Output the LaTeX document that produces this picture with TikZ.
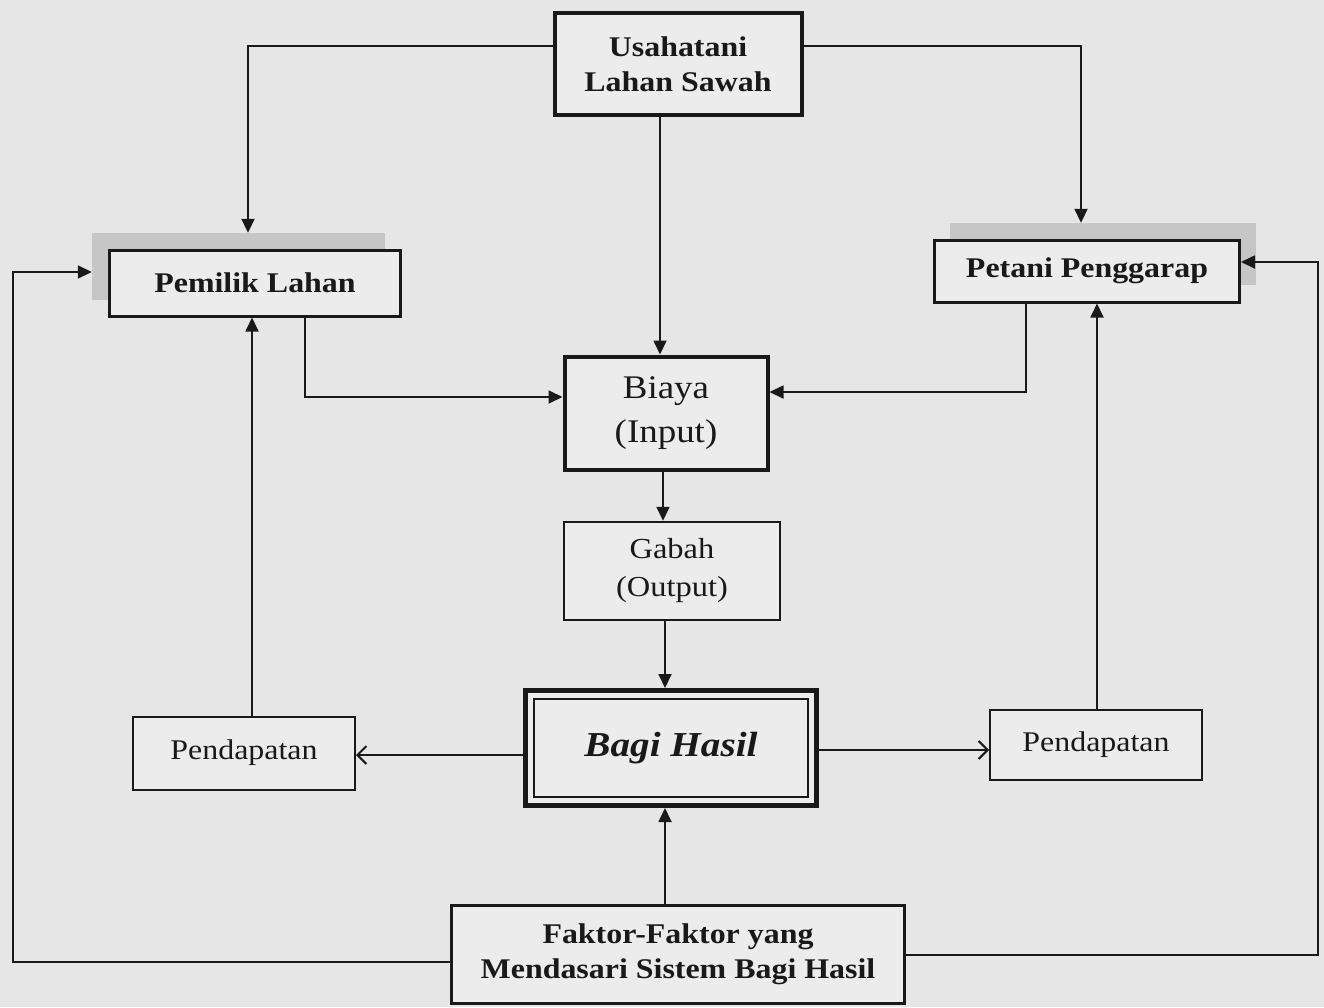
\documentclass[tikz,border=0pt]{standalone}
\usepackage{fontspec}
\setmainfont[FakeStretch=1.12]{Liberation Serif}
\usetikzlibrary{arrows.meta,calc}
\definecolor{bgc}{RGB}{230,230,230}
\definecolor{boxc}{RGB}{236,236,236}
\definecolor{shc}{RGB}{198,198,198}
\definecolor{ink}{RGB}{25,25,25}
\tikzset{
  base/.style={draw=ink,fill=boxc,text=ink,align=center,inner sep=0pt},
  boldbox/.style={base,font=\fontsize{28.5}{35}\selectfont\bfseries},
  plainbox/.style={base,font=\fontsize{28.5}{38}\selectfont,line width=2pt},
  shadowbox/.style={fill=shc,draw=none,inner sep=0pt},
  conn/.style={draw=ink,line width=1.8pt},
  arr/.style={conn,-{Triangle[length=14pt,width=13pt]}},
  barb/.style={conn,-{Straight Barb[length=9pt,width=18pt,line width=2pt]}}
}
\begin{document}
\begin{tikzpicture}[x=1pt,y=-1pt]
\fill[bgc] (0,0) rectangle (1324,1007);
\useasboundingbox (0,0) rectangle (1324,1007);

% shadows
\node[shadowbox,minimum width=293pt,minimum height=67pt] (plsh) at (238.5,266.5) {};
\node[shadowbox,minimum width=306pt,minimum height=62pt] (ppsh) at (1103,254) {};

% nodes
\node[boldbox,line width=4pt,minimum width=247pt,minimum height=102pt] (us) at (678,64) {Usahatani\\Lahan Sawah};
\node[boldbox,line width=3pt,minimum width=291pt,minimum height=66pt] (pl) at (255,283) {Pemilik Lahan};
\node[boldbox,line width=3pt,minimum width=305pt,minimum height=62pt] (pp) at (1087,271) {Petani Penggarap};
\node[base,line width=4pt,minimum width=203pt,minimum height=113pt,font=\fontsize{33}{44}\selectfont] (bi) at (666,413) {Biaya\\(Input)};
\node[base,line width=2.5pt,minimum width=216pt,minimum height=98pt,font=\fontsize{29}{38}\selectfont] (ga) at (672,571) {Gabah\\(Output)};
\node[base,line width=5pt,minimum width=291pt,minimum height=115pt,font=\fontsize{35}{40}\selectfont\bfseries\itshape] (bh) at (671,748) {Bagi Hasil};
\draw[ink,line width=2.5pt] ([shift={(11pt,-11pt)}]bh.north west) rectangle ([shift={(-11pt,11pt)}]bh.south east);
\node[plainbox,minimum width=222pt,minimum height=73pt] (pdl) at (244,753) {Pendapatan};
\node[plainbox,minimum width=212pt,minimum height=70pt] (pdr) at (1096,745) {Pendapatan};
\node[boldbox,line width=3pt,minimum width=453pt,minimum height=98pt] (fk) at (678,954) {Faktor-Faktor yang\\Mendasari Sistem Bagi Hasil};

% connectors
\draw[arr] (us.west |- 0,46) -| (plsh.north -| 248,0);
\draw[arr] (us.east |- 0,46) -| (ppsh.north -| 1081,0);
\draw[arr] (us.south -| 660,0) -- (bi.north -| 660,0);
\draw[arr] (pl.south -| 305,0) |- (bi.west |- 0,397);
\draw[arr] (pp.south -| 1026,0) |- (bi.east |- 0,392);
\draw[arr] (bi.south -| 663,0) -- (ga.north -| 663,0);
\draw[arr] (ga.south -| 665,0) -- (bh.north -| 665,0);
\draw[barb] (bh.west |- 0,755) -- (pdl.east |- 0,755);
\draw[barb] (bh.east |- 0,750) -- (pdr.west |- 0,750);
\draw[arr] (pdl.north -| 252,0) -- (pl.south -| 252,0);
\draw[arr] (pdr.north -| 1097,0) -- (pp.south -| 1097,0);
\draw[arr] (fk.north -| 665,0) -- (bh.south -| 665,0);
\draw[arr] (fk.west |- 0,962) -| (13,272) -- (plsh.west |- 0,272);
\draw[arr] (fk.east |- 0,955) -| (1318,262) -- (pp.east |- 0,262);
\end{tikzpicture}
\end{document}
